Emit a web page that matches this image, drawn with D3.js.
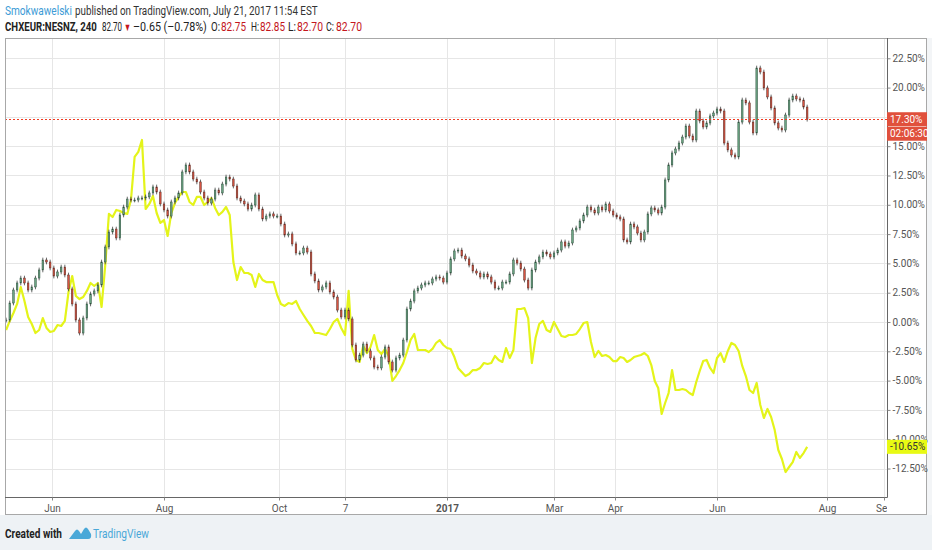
<!DOCTYPE html>
<html><head><meta charset="utf-8">
<script src="https://cdnjs.cloudflare.com/ajax/libs/d3/7.8.5/d3.min.js"></script>
<style>
html,body{margin:0;padding:0;background:#fff;}
svg{display:block;}
text{font-family:Roboto,'Liberation Sans',sans-serif;}
</style></head><body>
<svg id="c" width="932" height="550"></svg>
<script>
// ---------------- DATA ----------------
const startDate = "2016-05-07";
const stepDays = 2;
// CHXEUR:NESNZ, % change (close of each sampled bar)
const nesnCloses = [
 0.17, 1.62, 2.73, 3.33, 3.75, 3.33, 2.73, 2.99, 3.75, 4.44,
 5.29, 5.12, 4.61, 3.92, 4.27, 4.69, 4.01, 2.82, 1.54, 0.17,
 -0.94, 0.34, 1.54, 2.39, 2.65, 3.16, 5.12, 6.40, 7.68, 7.93,
 7.17, 9.13, 9.81, 10.49, 10.41, 10.41, 10.58, 10.58, 10.67, 11.01,
 11.52, 11.09, 10.07, 9.56, 9.04, 10.24, 10.58, 11.01, 12.80, 13.40,
 12.80, 12.20, 11.95, 11.09, 10.58, 10.15, 10.49, 11.26, 11.01, 11.77,
 12.37, 12.20, 11.60, 10.58, 10.32, 10.07, 9.64, 9.98, 10.84, 9.64,
 8.79, 9.04, 9.22, 9.04, 9.04, 8.36, 7.42, 7.51, 6.66, 5.89,
 5.89, 6.31, 5.97, 4.10, 3.50, 2.73, 2.99, 3.33, 2.56, 2.13,
 1.02, 0.43, 1.02, 0.26, -1.96, -3.24, -2.82, -1.88, -2.47, -3.07,
 -3.84, -3.92, -2.99, -2.13, -3.41, -4.10, -3.07, -2.82, -1.54, 1.11,
 1.79, 2.65, 2.90, 3.16, 3.33, 3.33, 3.67, 3.84, 3.75, 3.41,
 4.18, 5.38, 6.06, 6.14, 5.63, 5.38, 4.86, 4.35, 4.18, 3.84,
 4.10, 3.84, 3.41, 2.90, 2.90, 3.41, 3.41, 4.10, 5.29, 5.03,
 4.52, 3.58, 2.90, 4.44, 5.12, 5.55, 5.97, 5.80, 5.55, 5.89,
 6.14, 6.83, 6.48, 6.74, 7.85, 8.02, 8.62, 9.13, 9.81, 9.56,
 9.30, 9.81, 9.56, 10.07, 9.47, 9.13, 8.96, 8.79, 7.00, 6.83,
 8.36, 8.11, 7.59, 7.00, 7.68, 9.22, 9.73, 9.56, 9.30, 9.81,
 12.12, 13.40, 14.42, 14.76, 15.27, 15.78, 16.72, 15.87, 15.53, 18.00,
 17.15, 16.64, 16.98, 17.58, 17.83, 18.17, 18.00, 15.27, 14.68, 14.25,
 14.08, 17.06, 18.94, 18.69, 17.06, 16.13, 21.67, 21.33, 19.97, 19.20,
 18.26, 16.98, 16.55, 16.38, 17.66, 18.94, 19.28, 19.03, 18.94, 18.34, 17.30
];
// comparison symbol, % change
const compareValues = [
 -0.68, 0.09, 0.77, 1.54, 2.99, 1.79, 0.43, -0.17, -0.94, -0.68,
 0.34, -0.51, -0.85, -0.77, -0.26, -0.34, 0.09, 2.56, 3.92, 2.22,
 1.96, 2.13, 2.65, 3.33, 3.07, 3.33, 1.28, 4.86, 9.22, 8.96,
 9.56, 9.47, 9.30, 9.22, 10.41, 14.08, 14.51, 15.53, 9.64, 10.07,
 10.75, 9.30, 8.45, 8.70, 7.34, 9.30, 10.15, 10.67, 11.09, 11.09,
 10.24, 9.98, 10.67, 10.67, 9.98, 10.24, 10.58, 9.73, 9.13, 9.39,
 9.81, 9.13, 5.12, 3.58, 4.69, 4.18, 4.18, 4.01, 2.99, 4.10,
 3.58, 3.41, 3.41, 3.41, 2.30, 1.54, 1.37, 1.62, 1.54, 1.79,
 1.11, 0.60, 0.09, -0.34, -0.94, -0.94, -1.02, -1.11, -0.60, 0.00,
 0.26, -0.51, -1.11, 2.65, -2.30, -3.24, -3.41, -2.05, -2.65, -2.13,
 -1.11, -2.39, -2.73, -2.30, -2.90, -5.03, -4.61, -4.10, -3.50, -2.56,
 -1.54, -1.02, -2.39, -2.39, -2.39, -2.56, -2.30, -1.79, -1.54, -1.96,
 -2.22, -2.30, -2.99, -3.92, -4.27, -4.61, -4.44, -4.10, -4.10, -3.92,
 -3.50, -3.58, -3.50, -2.90, -3.24, -3.41, -2.22, -3.07, -2.39, 1.11,
 1.11, 1.19, 0.34, -3.50, -1.37, -0.17, 0.09, -0.68, -0.85, 0.00,
 -0.60, -1.19, -1.28, -1.11, -1.11, -1.02, -0.60, -0.09, 0.00, -1.71,
 -2.99, -2.47, -2.90, -2.82, -2.99, -3.33, -3.33, -2.99, -3.07, -3.41,
 -3.24, -2.99, -2.90, -2.82, -2.65, -2.90, -3.67, -5.03, -5.63, -7.85,
 -6.91, -6.06, -4.10, -5.80, -5.80, -5.72, -5.80, -6.06, -6.23, -5.12,
 -4.18, -3.33, -3.24, -3.92, -4.35, -3.07, -2.65, -3.41, -2.47, -1.79,
 -1.96, -2.47, -3.75, -4.61, -5.80, -6.06, -5.20, -7.08, -8.19, -7.42,
 -8.11, -9.22, -10.92, -11.69, -12.80, -12.37, -11.95, -11.09, -11.60, -11.18, -10.65
];
const priceTicks = [-12.5, -10, -7.5, -5, -2.5, 0, 2.5, 5, 7.5, 10, 12.5, 15, 17.5, 20, 22.5];
const timeTickDates = ["2016-06-01","2016-08-01","2016-10-03","2016-11-07","2017-01-02","2017-03-01","2017-04-03","2017-06-01","2017-08-01","2017-09-01"];
const timeTickLabels = ["Jun","Aug","Oct","7","2017","Mar","Apr","Jun","Aug","Sep"];
const lastValue = 17.30;
const compareLast = -10.65;
const countdown = "02:06:30";
const headerAuthor = "Smokwawelski";
const headerPublished = "published on TradingView.com, July 21, 2017 11:54 EST";
const legendParts = [
  {t:"CHXEUR:NESNZ, 240", c:"#222", b:true},
  {t:"82.70", c:"#222"}, {t:"\u25BC", c:"#c4161c"}, {t:"\u20130.65 (\u20130.78%)", c:"#222"},
  {t:"O:", c:"#222"}, {t:"82.75", c:"#c4161c"},
  {t:"H:", c:"#222"}, {t:"82.85", c:"#c4161c"},
  {t:"L:", c:"#222"}, {t:"82.70", c:"#c4161c"},
  {t:"C:", c:"#222"}, {t:"82.70", c:"#c4161c"}
];

// ---------------- LAYOUT ----------------
const W = 932, H = 550;
const plot = {l:5, t:38, r:887, b:497};
const frame = {r:927, b:515};
const tickPx = [52,164,279,345,447,554,615,717,827,884];
const yDomain = [-14.93, 24.23];
const HFONT = "'Liberation Sans',Arial,sans-serif";
// horizontal extents of legend pieces (layout)
const legendBoxes = [[5,97],[102,122],[124,131],[133,207],[211,220],[221,246],[251,259],[260,285],[288,296],[297,323],[326,334],[336,362]];

const parse = d3.timeParse("%Y-%m-%d");
const start = parse(startDate);
const x = d3.scaleTime().domain(timeTickDates.map(parse)).range(tickPx);
const y = d3.scaleLinear().domain(yDomain).range([plot.b, plot.t]);

const svg = d3.select("#c");
svg.append("rect").attr("width",W).attr("height",H).attr("fill","#fff");
svg.append("rect").attr("x",0).attr("y",frame.b).attr("width",W).attr("height",H-frame.b).attr("fill","#eef2f5");
svg.append("rect").attr("x",frame.r).attr("y",plot.t).attr("width",W-frame.r).attr("height",frame.b-plot.t).attr("fill","#f3f5f7");

// text squeezed horizontally (narrow look) to fit [x0,x1]
function fitText(x0, x1, yb, txt, color, bold, size){
  const g = svg.append("g");
  const t = g.append("text").attr("x",0).attr("y",0).attr("font-size",size||13).attr("fill",color)
    .attr("font-weight",bold?"bold":"normal").attr("font-family",HFONT).text(txt);
  const nat = t.node().getComputedTextLength() || (x1-x0);
  const sx = (x1-x0)/nat;
  g.attr("transform",`translate(${x0},${yb}) scale(${sx},1)`);
  return t;
}
// header
fitText(5, 72, 15, headerAuthor, "#3d9bd6", false);
fitText(75, 318, 15, headerPublished, "#333", false);
legendParts.forEach((p,i)=>{
  const [a,b] = legendBoxes[i];
  fitText(a, b, 31, p.t, p.c, p.b, p.t==="\u25BC"?11:13);
});

// clip
svg.append("clipPath").attr("id","pc").append("rect")
  .attr("x",plot.l).attr("y",plot.t).attr("width",plot.r-plot.l).attr("height",plot.b-plot.t);
svg.append("clipPath").attr("id","tc").append("rect")
  .attr("x",plot.l).attr("y",plot.b).attr("width",plot.r-plot.l).attr("height",frame.b-plot.b);

// gridlines
const grid = svg.append("g").attr("clip-path","url(#pc)");
grid.selectAll("line.h").data(priceTicks).join("line")
  .attr("x1",plot.l).attr("x2",plot.r).attr("y1",d=>Math.round(y(d))+0.5).attr("y2",d=>Math.round(y(d))+0.5)
  .attr("stroke","#e6e6e6").attr("stroke-width",1);
grid.selectAll("line.v").data(timeTickDates).join("line")
  .attr("y1",plot.t).attr("y2",plot.b).attr("x1",d=>Math.round(x(parse(d)))+0.5).attr("x2",d=>Math.round(x(parse(d)))+0.5)
  .attr("stroke","#e6e6e6").attr("stroke-width",1);

// series
const dateAt = i => d3.timeDay.offset(start, i*stepDays);
const series = svg.append("g").attr("clip-path","url(#pc)");
series.append("path").datum(compareValues)
  .attr("fill","none").attr("stroke","#e4f41a").attr("stroke-width",2.2).attr("stroke-linejoin","round")
  .attr("d", d3.line().x((d,i)=>x(dateAt(i))).y(d=>y(d)));

const candles = nesnCloses.map((c,i)=>{
  const o = i>0 ? nesnCloses[i-1] : c;
  return {date:dateAt(i), o, c, h:Math.max(o,c)+0.2, l:Math.min(o,c)-0.2};
});
const cg = series.append("g");
cg.selectAll("line").data(candles).join("line")
  .attr("x1",d=>x(d.date)).attr("x2",d=>x(d.date))
  .attr("y1",d=>y(d.h)).attr("y2",d=>y(d.l))
  .attr("stroke","#444").attr("stroke-width",0.8);
cg.selectAll("rect").data(candles).join("rect")
  .attr("x",d=>x(d.date)-0.8).attr("width",1.6)
  .attr("y",d=>y(Math.max(d.o,d.c)))
  .attr("height",d=>Math.max(1, Math.abs(y(d.o)-y(d.c))))
  .attr("fill",d=>d.c>=d.o?"#6ba583":"#d75442")
  .attr("stroke",d=>d.c>=d.o?"#2c4f3c":"#5b2a22").attr("stroke-width",0.5);

// last price dotted line
svg.append("line").attr("x1",plot.l).attr("x2",plot.r)
  .attr("y1",Math.round(y(lastValue))+0.5).attr("y2",Math.round(y(lastValue))+0.5)
  .attr("stroke","#f03a22").attr("stroke-width",1).attr("stroke-dasharray","2,2").attr("shape-rendering","crispEdges");

// borders
svg.append("rect").attr("x",plot.l+0.5).attr("y",plot.t+0.5).attr("width",frame.r-plot.l-1).attr("height",frame.b-plot.t-1)
  .attr("fill","none").attr("stroke","#a8a8a8");
svg.append("line").attr("x1",plot.l).attr("x2",plot.r+0.5).attr("y1",plot.b+0.5).attr("y2",plot.b+0.5).attr("stroke","#666");
svg.append("line").attr("x1",plot.r+0.5).attr("x2",plot.r+0.5).attr("y1",plot.t).attr("y2",plot.b+0.5).attr("stroke","#666");

// price axis
const ya = svg.append("g").attr("transform",`translate(${plot.r+0.5},0)`)
  .call(d3.axisRight(y).tickValues(priceTicks).tickFormat(d=>d.toFixed(2)+"%").tickSize(3).tickPadding(2));
ya.select(".domain").remove();
ya.selectAll("line").attr("stroke","#888");
ya.selectAll("text").attr("font-size",10).attr("fill","#555").attr("font-family","Roboto,sans-serif");
// labels fully hidden under the last-price badge (as on the reference) are not drawn
ya.selectAll(".tick").filter(d=>Math.abs(y(d)-y(lastValue))<8).select("text").remove();

// time axis (outer group clipped in page coordinates, inner group translated)
const xaOuter = svg.append("g").attr("clip-path","url(#tc)");
const xa = xaOuter.append("g").attr("transform",`translate(0,${plot.b+0.5})`)
  .call(d3.axisBottom(x).tickValues(timeTickDates.map(parse)).tickFormat((d,i)=>timeTickLabels[i]).tickSize(3).tickPadding(4));
xa.select(".domain").remove();
xa.selectAll("line").attr("stroke","#888");
xa.selectAll("text").attr("font-size",10).attr("fill","#555")
  .attr("font-weight",(d,i)=>timeTickLabels[i]==="2017"?"bold":"normal")
  .attr("font-family","Roboto,sans-serif");

// price labels
function priceLabel(v, bg, fg, txt, dyOff){
  const cy = y(v) + (dyOff||0);
  svg.append("rect").attr("x",plot.r).attr("y",cy-7).attr("width",frame.r-plot.r).attr("height",14).attr("fill",bg);
  svg.append("text").attr("x",plot.r+3).attr("y",cy+3.6).attr("font-size",10).attr("fill",fg)
    .attr("font-family","Roboto,sans-serif").text(txt);
}
priceLabel(lastValue, "#e0503c", "#fff", lastValue.toFixed(2)+"%");
priceLabel(lastValue, "#e0503c", "#fff", countdown, 14.5);
priceLabel(compareLast, "#e8fa14", "#333", compareLast.toFixed(2)+"%");

// footer
fitText(5, 62, 538, "Created with", "#222", true, 13);
svg.append("path").attr("fill","#4aa8d8")
  .attr("d","M69,539 L75,531 Q77,528 79,531 L81,534 L84,529 Q86,526 88,529 L91,534 Q92,539 88,539 Z");
fitText(93, 149, 538, "TradingView", "#4aa8d8", false, 13);
</script>
</body></html>
